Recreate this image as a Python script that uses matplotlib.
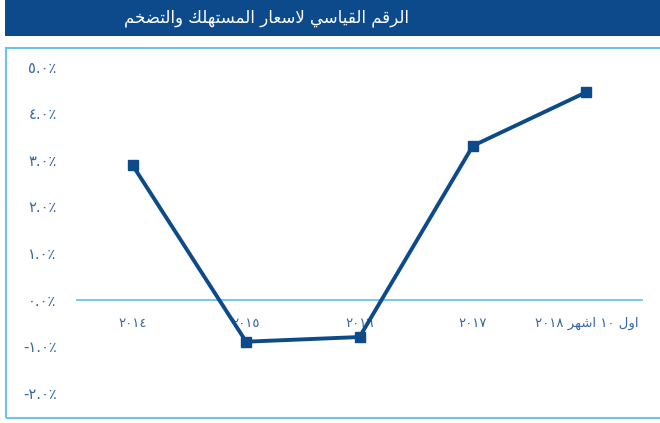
import matplotlib
matplotlib.use('Agg')
import matplotlib.pyplot as plt
from matplotlib.patches import Rectangle

# data
years = ['2014', '2015', '2016', '2017', 'اول 10 اشهر 2018']
inflation = [2.88, -0.90, -0.80, 3.30, 4.45]
y_ticks = [-2.0, -1.0, 0.0, 1.0, 2.0, 3.0, 4.0, 5.0]
title = 'الرقم القياسي لاسعار المستهلك والتضخم'

DARK = '#0C4A8A'
LIGHT = '#6EC3EA'
TXT = '#3567A3'

# matplotlib has no arabic shaping, so do it by hand with presentation forms
FORMS = {
    'ا': (0xFE8D, 0xFE8E, None, None),
    'ر': (0xFEAD, 0xFEAE, None, None),
    'و': (0xFEED, 0xFEEE, None, None),
    'ل': (0xFEDD, 0xFEDE, 0xFEDF, 0xFEE0),
    'ق': (0xFED5, 0xFED6, 0xFED7, 0xFED8),
    'م': (0xFEE1, 0xFEE2, 0xFEE3, 0xFEE4),
    'ي': (0xFEF1, 0xFEF2, 0xFEF3, 0xFEF4),
    'س': (0xFEB1, 0xFEB2, 0xFEB3, 0xFEB4),
    'ع': (0xFEC9, 0xFECA, 0xFECB, 0xFECC),
    'ت': (0xFE95, 0xFE96, 0xFE97, 0xFE98),
    'ه': (0xFEE9, 0xFEEA, 0xFEEB, 0xFEEC),
    'ك': (0xFED9, 0xFEDA, 0xFEDB, 0xFEDC),
    'ض': (0xFEBD, 0xFEBE, 0xFEBF, 0xFEC0),
    'خ': (0xFEA5, 0xFEA6, 0xFEA7, 0xFEA8),
    'ش': (0xFEB5, 0xFEB6, 0xFEB7, 0xFEB8),
}
DIGITS = str.maketrans('0123456789%', '٠١٢٣٤٥٦٧٨٩٪')


def shape_word(word):
    out = []
    link = False  # previous glyph joins forward
    i = 0
    while i < len(word):
        c = word[i]
        nxt = word[i + 1] if i + 1 < len(word) else None
        if c == 'ل' and nxt == 'ا':
            out.append(chr(0xFEFC if link else 0xFEFB))
            link = False
            i += 2
            continue
        f = FORMS[c]
        fwd = f[2] is not None and nxt in FORMS
        if link and fwd:
            g = f[3]
        elif link:
            g = f[1]
        elif fwd:
            g = f[2]
        else:
            g = f[0]
        out.append(chr(g))
        link = fwd
        i += 1
    return ''.join(reversed(out))


def visual(text):
    toks = []
    for w in text.split(' '):
        if w.isdigit():
            toks.append(w.translate(DIGITS))
        else:
            toks.append(shape_word(w))
    return ' '.join(reversed(toks))


def pct(v):
    s = f'{abs(v):.1f}%'.translate(DIGITS)
    return ('-' + s) if v < 0 else s


plt.rcParams['font.family'] = ['DejaVu Sans']

fig = plt.figure(figsize=(6.6, 4.23), dpi=100)
W, H = 660, 423

# title bar and frame
fig.patches.append(Rectangle((5 / W, 1 - 36 / H), 1, 36 / H, transform=fig.transFigure,
                             facecolor='#0D4A8B', edgecolor='none'))
fig.patches.append(Rectangle((6 / W, 1 - 418 / H), 1, (418 - 48) / H, transform=fig.transFigure,
                             facecolor='none', edgecolor=LIGHT, lw=1.5))
fig.text(266 / W, 1 - 18 / H, visual(title), color='white', fontsize=12,
         ha='center', va='center')

ax = fig.add_axes([76 / W, 1 - 393 / H, (643 - 76) / W, (393 - 66.5) / H])
ax.set_xlim(-0.5, 4.5)
ax.set_ylim(-2.0, 5.0)
for s in ax.spines.values():
    s.set_visible(False)
ax.axhline(0, color=LIGHT, lw=1.3, zorder=1)

ax.set_xticks([])
ax.set_yticks(y_ticks)
ax.set_yticklabels([pct(v) for v in y_ticks], color=TXT, fontsize=10.5)
ax.tick_params(axis='y', length=0, pad=14)

for i, lab in enumerate(years):
    txt = visual(lab) if not lab.isdigit() else lab.translate(DIGITS)
    ax.annotate(txt, xy=(i, 0), xytext=(0, -17), textcoords='offset points',
                ha='center', va='center', color=TXT, fontsize=9.5, zorder=2)

x = list(range(len(years)))
ax.plot(x, inflation, color=DARK, lw=2.8, marker='s', markersize=7,
        clip_on=False, zorder=3)

fig.savefig('out.png', dpi=100)
